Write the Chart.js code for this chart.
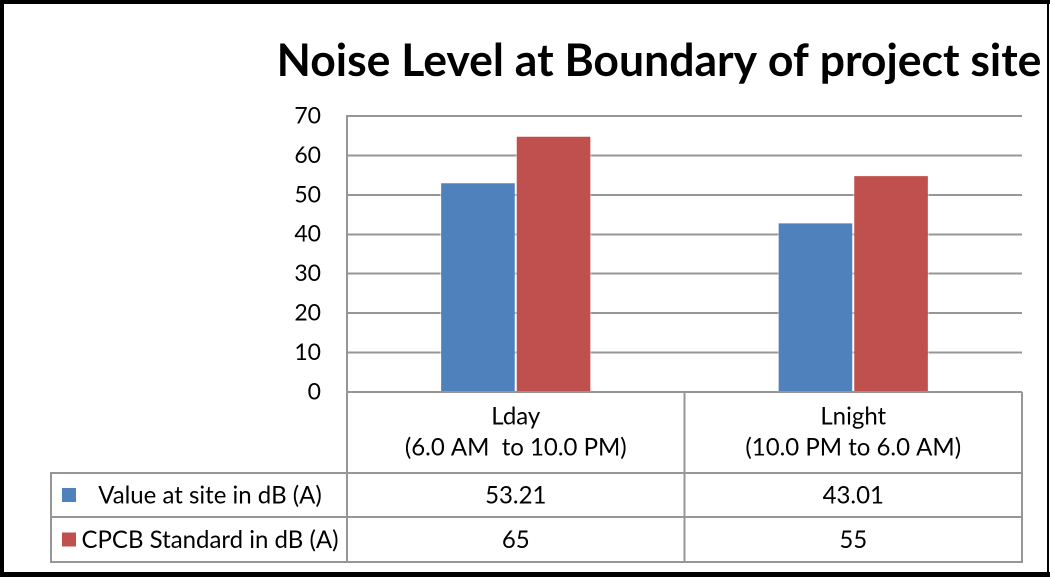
<!DOCTYPE html>
<html>
<head>
<meta charset="utf-8">
<script src="https://cdn.jsdelivr.net/npm/chart.js@4"></script>
<style>
  html, body { margin: 0; padding: 0; background: #fff; }
  #wrap { position: relative; width: 1050px; height: 577px; }
</style>
</head>
<body>
<div id="wrap"><canvas id="c"></canvas></div>
<script>
// ---- data ----
const chartTitle = "Noise Level at Boundary of project site";
const categories = [["Lday", "(6.0 AM  to 10.0 PM)"], ["Lnight", "(10.0 PM to 6.0 AM)"]];
const seriesNames = ["Value at site in dB (A)", "CPCB Standard in dB (A)"];
const siteValues = [53.21, 43.01];
const cpcbValues = [65, 55];
const yMin = 0, yMax = 70, yStep = 10;
const seriesColors = ["#4F81BD", "#C0504D"];

const FONT = "Lato, 'Open Sans', sans-serif";
const GRID = "#969696";

const framePlugin = {
  id: 'frame',
  afterDraw(chart) {
    const ctx = chart.ctx;
    const W = chart.width, H = chart.height;
    ctx.save();
    // title
    ctx.fillStyle = "#000";
    ctx.font = "bold 44.5px " + FONT;
    ctx.textAlign = "center";
    ctx.textBaseline = "alphabetic";
    ctx.fillText(chartTitle, 659, 76);
    // outer black frame
    ctx.fillStyle = "#000";
    ctx.fillRect(0, 0, W, 4);
    ctx.fillRect(0, 0, 4, H);
    ctx.fillRect(0, H - 5, W, 5);
    ctx.fillRect(W - 3, 0, 2, H);
    ctx.restore();
  }
};

const tablePlugin = {
  id: 'dataTable',
  afterDraw(chart) {
    const ctx = chart.ctx;
    const area = chart.chartArea;
    const x = chart.scales.x;
    const labels = chart.data.labels;
    const n = labels.length;
    const tableLeft = 51;
    const top = area.bottom;
    const rowCat = 473, rowA = 517, rowB = 562;
    // category boundaries
    const bounds = [area.left];
    for (let i = 0; i < n - 1; i++) {
      bounds.push((x.getPixelForValue(i) + x.getPixelForValue(i + 1)) / 2);
    }
    bounds.push(area.right);

    ctx.save();
    ctx.strokeStyle = GRID;
    ctx.lineWidth = 2;
    ctx.beginPath();
    // vertical lines
    bounds.forEach(b => { ctx.moveTo(b, top); ctx.lineTo(b, rowB); });
    ctx.moveTo(tableLeft, rowCat); ctx.lineTo(tableLeft, rowB);
    // horizontal lines
    [rowCat, rowA, rowB].forEach(yy => { ctx.moveTo(tableLeft - 1, yy); ctx.lineTo(area.right + 1, yy); });
    ctx.stroke();

    ctx.fillStyle = "#000";
    ctx.font = "24px " + FONT;
    ctx.textAlign = "center";
    ctx.textBaseline = "middle";
    // category labels
    labels.forEach((lab, i) => {
      const cx = x.getPixelForValue(i);
      const lines = Array.isArray(lab) ? lab : [lab];
      const lh = 31;
      const cy = (top + rowCat) / 2;
      lines.forEach((ln, j) => {
        ctx.fillText(ln, cx, cy + (j - (lines.length - 1) / 2) * lh);
      });
    });
    // series rows
    const rows = [[rowCat, rowA], [rowA, rowB]];
    chart.data.datasets.forEach((ds, k) => {
      const cy = (rows[k][0] + rows[k][1]) / 2;
      // legend key
      ctx.fillStyle = ds.backgroundColor;
      ctx.fillRect(62, cy - 7, 14, 14);
      ctx.fillStyle = "#000";
      ctx.fillText(ds.label, 210, cy + 1);
      ds.data.forEach((v, i) => {
        ctx.fillText(String(v), x.getPixelForValue(i), cy + 1);
      });
    });
    ctx.restore();
  }
};

new Chart(document.getElementById('c'), {
  type: 'bar',
  data: {
    labels: categories,
    datasets: [
      { label: seriesNames[0], data: siteValues, backgroundColor: seriesColors[0],
        borderColor: "rgba(255,255,255,0.55)", borderWidth: 1 },
      { label: seriesNames[1], data: cpcbValues, backgroundColor: seriesColors[1],
        borderColor: "rgba(255,255,255,0.55)", borderWidth: 1 }
    ]
  },
  options: {
    responsive: true,
    maintainAspectRatio: false,
    animation: false,
    devicePixelRatio: 2,
    layout: { padding: { top: 116, right: 28, bottom: 185, left: 0 } },
    datasets: { bar: { categoryPercentage: 0.448, barPercentage: 1.0 } },
    plugins: {
      legend: { display: false },
      title: { display: false },
      tooltip: { enabled: false }
    },
    scales: {
      x: { display: false },
      y: {
        min: yMin, max: yMax,
        afterFit(scale) { scale.width = 347; },
        ticks: { stepSize: yStep, color: "#000", padding: 26, font: { family: FONT, size: 23 } },
        grid: { color: GRID, lineWidth: 2, drawTicks: false },
        border: { display: true, color: GRID, width: 2 }
      }
    }
  },
  plugins: [tablePlugin, framePlugin]
});
</script>
</body>
</html>
